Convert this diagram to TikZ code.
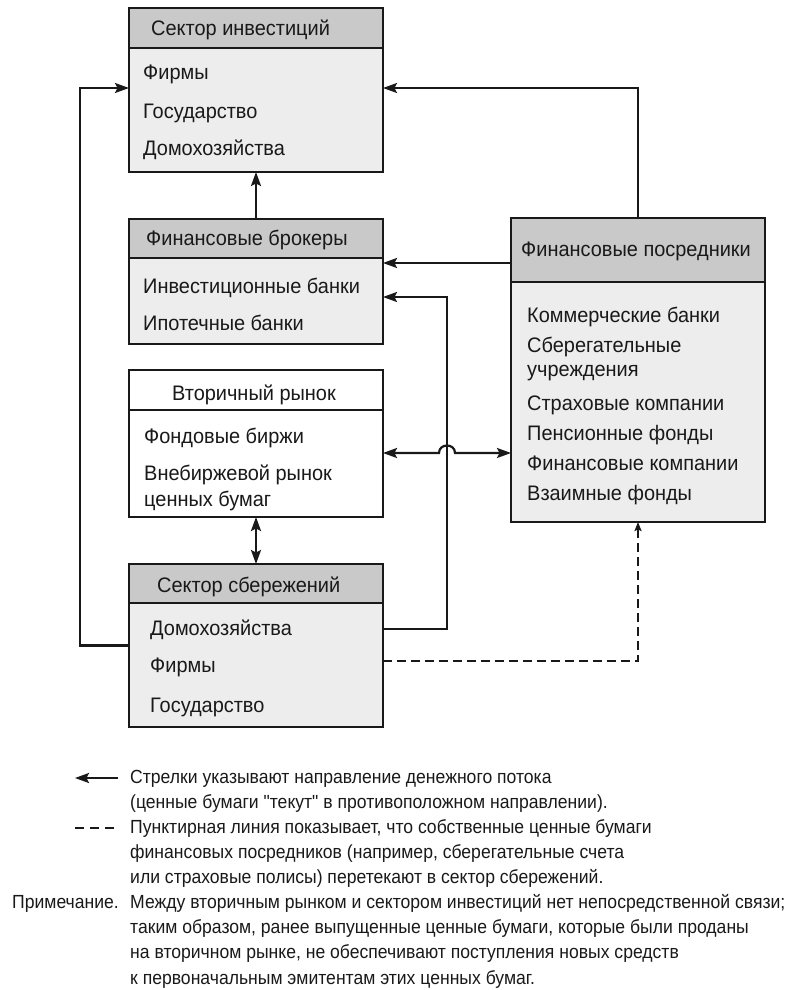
\documentclass[tikz,border=0pt]{standalone}
\usepackage{fontspec}
\setmainfont{Liberation Sans}
\newfontfamily\boxfam[FakeStretch=0.95]{Liberation Sans}
\newfontfamily\legfam[FakeStretch=0.925]{Liberation Sans}
\usetikzlibrary{arrows.meta}
\definecolor{hdrc}{gray}{0.79}
\definecolor{bodyc}{gray}{0.93}
\definecolor{ink}{gray}{0.10}
\begin{document}
\begin{tikzpicture}[x=1pt,y=-1pt,
  box/.style={draw=ink, line width=1.5pt, fill=bodyc, inner sep=0pt, outer sep=0pt, anchor=north west, minimum width=254pt},
  hbox/.style={box, fill=hdrc},
  wbox/.style={box, fill=white},
  txt/.style={inner sep=0pt, anchor=base west, text=ink, font=\boxfam\fontsize{21}{25}\selectfont},
  leg/.style={inner sep=0pt, anchor=base west, text=ink, font=\legfam\fontsize{19}{22}\selectfont},
  conn/.style={line width=2.2pt, draw=ink},
  dconn/.style={line width=2.2pt, draw=ink, dash pattern=on 9pt off 5pt},
  tip/.style={-{Stealth[length=14pt,width=10pt,inset=2.5pt]}},
  dtip/.style={{Stealth[length=14pt,width=10pt,inset=2.5pt]}-{Stealth[length=14pt,width=10pt,inset=2.5pt]}},
  stip/.style={-{Stealth[length=9pt,width=7pt,inset=1.5pt]}}
]
\useasboundingbox (0,0) rectangle (795,990);

% Sector investitsiy
\node[box, minimum height=164pt] (inv) at (129,8) {};
\node[hbox, minimum height=40pt] (invh) at (129,8) {};
\node[txt] (invt) at (151,36) {Сектор инвестиций};
\node[txt] (inv1) at (143,80) {Фирмы};
\node[txt] (inv2) at (143,118) {Государство};
\node[txt] (inv3) at (143,155) {Домохозяйства};

% Finansovye brokery
\node[box, minimum height=125pt] (brk) at (129,219) {};
\node[hbox, minimum height=39pt] (brkh) at (129,219) {};
\node[txt] (brkt) at (146,245) {Финансовые брокеры};
\node[txt] (brk1) at (143,293) {Инвестиционные банки};
\node[txt] (brk2) at (143,330) {Ипотечные банки};

% Vtorichnyy rynok
\node[wbox, minimum height=147pt] (sec) at (129,370) {};
\node[wbox, minimum height=40pt] (sech) at (129,370) {};
\node[txt] (sect) at (172,400) {Вторичный рынок};
\node[txt] (sec1) at (144,443) {Фондовые биржи};
\node[txt] (sec2) at (144,480) {Внебиржевой рынок};
\node[txt] (sec3) at (144,506) {ценных бумаг};

% Sektor sberezheniy
\node[box, minimum height=163pt] (sav) at (129,564) {};
\node[hbox, minimum height=39pt] (savh) at (129,564) {};
\node[txt] (savt) at (157,592) {Сектор сбережений};
\node[txt] (sav1) at (150,635) {Домохозяйства};
\node[txt] (sav2) at (150,672) {Фирмы};
\node[txt] (sav3) at (150,712) {Государство};

% Finansovye posredniki
\node[box, minimum height=304pt] (fin) at (511,218) {};
\node[hbox, minimum height=64pt] (finh) at (511,218) {};
\node[txt] (fint) at (521,256) {Финансовые посредники};
\node[txt] (fin1) at (527,322) {Коммерческие банки};
\node[txt] (fin2) at (527,352) {Сберегательные};
\node[txt] (fin3) at (527,376) {учреждения};
\node[txt] (fin4) at (527,410) {Страховые компании};
\node[txt] (fin5) at (527,440) {Пенсионные фонды};
\node[txt] (fin6) at (527,470) {Финансовые компании};
\node[txt] (fin7) at (527,500) {Взаимные фонды};

% connectors
\coordinate (lx) at (80,88);
\draw[conn,tip] (sav.west) -| (lx) -- (lx -| inv.west);
\coordinate (rx) at (638,88);
\draw[conn,tip] (fin.north) -- (rx) -- (rx -| inv.east);
\draw[conn,tip] (brk.north) -- (inv.south);
\coordinate (fb) at (511,263);
\draw[conn,tip] (fb) -- (fb -| brk.east);
\coordinate (sv) at (447,629);
\coordinate (sb) at (447,297);
\draw[conn,tip] (sv -| sav.east) -- (sv) -- (sb) -- (sb -| brk.east);
\coordinate (hp) at (447,453);
\draw[conn,dtip] (hp -| sec.east) -- ([xshift=-8pt]hp)
  .. controls ([xshift=-8pt,yshift=10pt]hp) and ([xshift=8pt,yshift=10pt]hp) .. ([xshift=8pt]hp)
  -- (hp -| fin.west);
\draw[conn,dtip] (sec.south) -- (sav.north);
\coordinate (dd) at (638,661);
\draw[dconn,stip] (dd -| sav.east) -- (dd) -- (fin.south);

% legend
\coordinate (la1) at (118,778);
\coordinate (la0) at (75,778);
\draw[conn,tip] (la1) -- (la0);
\coordinate (ld0) at (75,828);
\coordinate (ld1) at (118,828);
\draw[conn, dash pattern=on 9pt off 6pt] (ld0) -- (ld1);
\node[leg] (l1) at (130,783) {Стрелки указывают направление денежного потока};
\node[leg] (l2) at (130,808) {(ценные бумаги "текут" в противоположном направлении).};
\node[leg] (l3) at (130,833) {Пунктирная линия показывает, что собственные ценные бумаги};
\node[leg] (l4) at (130,858) {финансовых посредников (например, сберегательные счета};
\node[leg] (l5) at (130,883.5) {или страховые полисы) перетекают в сектор сбережений.};
\node[leg, anchor=base east] (l6a) at (119,908.5) {Примечание.};
\node[leg] (l6) at (130,908.5) {Между вторичным рынком и сектором инвестиций нет непосредственной связи;};
\node[leg] (l7) at (130,933.5) {таким образом, ранее выпущенные ценные бумаги, которые были проданы};
\node[leg] (l8) at (130,958.5) {на вторичном рынке, не обеспечивают поступления новых средств};
\node[leg] (l9) at (130,984) {к первоначальным эмитентам этих ценных бумаг.};
\end{tikzpicture}
\end{document}
